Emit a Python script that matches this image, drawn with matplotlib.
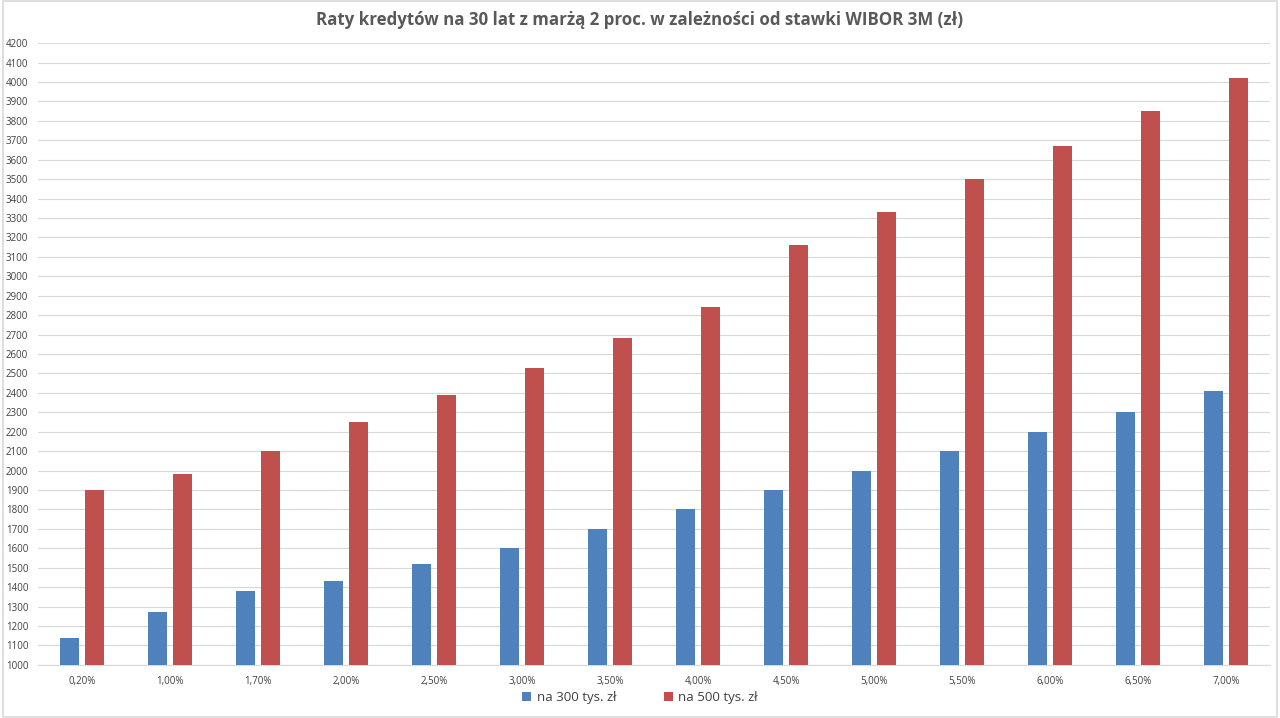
import numpy as np
import matplotlib
matplotlib.use('Agg')
import matplotlib.pyplot as plt
from matplotlib.patches import Rectangle

categories = ['0,20%', '1,00%', '1,70%', '2,00%', '2,50%', '3,00%', '3,50%',
              '4,00%', '4,50%', '5,00%', '5,50%', '6,00%', '6,50%', '7,00%']
rata300 = [1140, 1270, 1380, 1430, 1520, 1600, 1700, 1800, 1900, 2000, 2100, 2200, 2300, 2410]
rata500 = [1900, 1980, 2100, 2250, 2390, 2530, 2680, 2840, 3160, 3330, 3500, 3670, 3850, 4020]
seriesNames = ['na 300 tys. zł', 'na 500 tys. zł']
title = 'Raty kredytów na 30 lat z marżą 2 proc. w zależności od stawki WIBOR 3M (zł)'

plt.rcParams['font.family'] = ['Open Sans', 'DejaVu Sans']

fig = plt.figure(figsize=(12.8, 7.18), dpi=100)
fig.patches.append(Rectangle((0.002, 0.002), 0.996, 0.996, transform=fig.transFigure,
                             fill=False, edgecolor='#d9d9d9', linewidth=1.2))
ax = fig.add_axes([0.0297, 0.074, 0.9625, 0.866])

x = np.arange(len(categories))
w = 0.225
ax.bar(x - 0.142, rata300, w, bottom=0, color='#4f81bd', label=seriesNames[0], zorder=3)
ax.bar(x + 0.142, rata500, w, bottom=0, color='#c0504d', label=seriesNames[1], zorder=3)

ax.set_ylim(1000, 4200)
ax.set_xlim(-0.5, len(categories) - 0.5)
ax.set_yticks(np.arange(1000, 4201, 100))
ax.set_xticks(x)
ax.set_xticklabels(categories)
ax.tick_params(axis='both', length=0, labelsize=7, colors='#404040')
ax.tick_params(axis='x', pad=8)
ax.tick_params(axis='y', pad=7)
ax.grid(axis='y', color='#d9d9d9', linewidth=0.8, zorder=0)
for s in ['top', 'right', 'left']:
    ax.spines[s].set_visible(False)
ax.spines['bottom'].set_color('#d9d9d9')

fig.text(0.5, 0.972, title, ha='center', va='center', fontsize=12.2, fontweight='bold', color='#595959')
fig.legend(loc='center', bbox_to_anchor=(0.5, 0.028), ncol=2, frameon=False, fontsize=9.5,
           handlelength=0.7, handleheight=0.7, columnspacing=3.6, handletextpad=0.4,
           labelcolor='#404040')

fig.savefig('out.png', dpi=100)
